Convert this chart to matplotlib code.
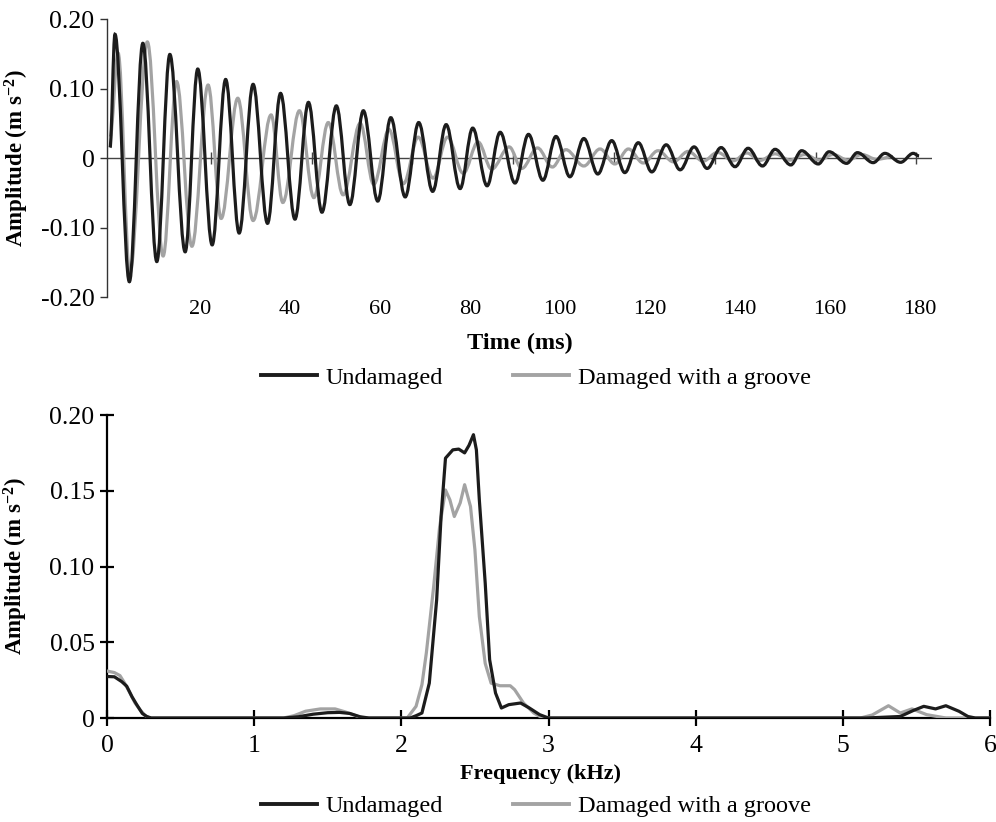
import matplotlib
matplotlib.use('Agg')
import matplotlib.pyplot as plt
from matplotlib.path import Path
from matplotlib.patches import PathPatch
from matplotlib.lines import Line2D

plt.rcParams['font.family'] = ['Liberation Serif', 'DejaVu Serif']
plt.rcParams['mathtext.default'] = 'regular'

# --- time signal: extrema (ms, m s^-2) ---
undamaged_t = [0.0, 1.1, 4.3, 7.3, 10.4, 13.3, 16.7, 19.5, 22.7, 25.7, 28.7,
               31.8, 35.0, 37.9, 41.1, 44.1, 47.1, 50.3, 53.3, 56.3, 59.5,
               62.4, 65.6, 68.6, 71.7, 74.7, 77.8, 80.6, 83.8, 86.7, 90.0,
               93.0, 96.2, 99.1, 102.2, 105.3, 108.4, 111.5, 114.4, 117.4,
               120.4, 123.6, 126.7, 129.8, 132.7, 135.8, 138.9, 141.8, 145.0,
               147.8, 151.3, 153.7, 157.4, 159.8, 163.7, 166.1, 169.6, 172.2,
               175.7, 178.5, 179.8]
undamaged_a = [0.015, 0.178, -0.178, 0.165, -0.149, 0.149, -0.135, 0.128,
               -0.125, 0.113, -0.108, 0.106, -0.094, 0.093, -0.088, 0.080,
               -0.078, 0.075, -0.067, 0.068, -0.062, 0.058, -0.056, 0.051,
               -0.048, 0.048, -0.044, 0.043, -0.040, 0.037, -0.036, 0.034,
               -0.032, 0.031, -0.027, 0.028, -0.023, 0.025, -0.021, 0.022,
               -0.020, 0.019, -0.017, 0.016, -0.015, 0.015, -0.0125, 0.014,
               -0.0115, 0.0125, -0.010, 0.0105, -0.0086, 0.009, -0.0077,
               0.0077, -0.0067, 0.0067, -0.0062, 0.0067, 0.003]

groove_t = [0.0, 1.8, 4.4, 8.3, 11.8, 14.8, 18.2, 21.8, 24.7, 28.4, 31.8,
            35.8, 38.4, 42.1, 45.3, 48.5, 51.8, 55.6, 58.6, 62.0, 65.2, 68.5,
            71.8, 75.0, 78.5, 81.8, 84.8, 88.7, 91.5, 95.0, 98.3, 101.3,
            105.3, 108.9, 112.2, 115.2, 118.5, 121.8, 125.2, 128.5, 131.8,
            135.0, 138.5, 141.5, 144.4, 147.8, 151.1, 154.4, 157.6, 160.7,
            164.0, 167.1, 170.4, 174.0]
groove_a = [0.030, 0.151, -0.166, 0.167, -0.141, 0.110, -0.127, 0.105,
            -0.087, 0.086, -0.090, 0.062, -0.064, 0.068, -0.057, 0.051,
            -0.053, 0.050, -0.038, 0.041, -0.037, 0.030, -0.029, 0.030,
            -0.022, 0.023, -0.016, 0.016, -0.015, 0.0145, -0.013, 0.012,
            -0.0115, 0.013, -0.0086, 0.013, -0.0072, 0.0105, -0.0055, 0.0095,
            -0.0045, 0.008, -0.004, 0.0072, -0.0035, 0.006, -0.003, 0.005,
            -0.003, 0.005, -0.003, 0.005, -0.002, 0.002]

time_ticks = [20, 40, 60, 80, 100, 120, 140, 160, 180]
zero_line_ticks = [22.4, 44.8, 67.2, 89.6, 112.0, 134.4, 156.8, 179.2]
amp_ticks_top = [-0.20, -0.10, 0, 0.10, 0.20]
amp_labels_top = ['-0.20', '-0.10', '0', '0.10', '0.20']

# --- spectrum (kHz, m s^-2) ---
undamaged_f = [0.0, 0.05, 0.10, 0.134, 0.17, 0.202, 0.24, 0.27, 0.30, 1.20,
               1.30, 1.40, 1.50, 1.58, 1.65, 1.72, 1.78, 2.06, 2.10, 2.14,
               2.19, 2.24, 2.27, 2.30, 2.35, 2.39, 2.43, 2.46, 2.49, 2.51,
               2.53, 2.57, 2.60, 2.64, 2.68, 2.73, 2.81, 2.87, 2.94, 3.0,
               5.16, 5.39, 5.48, 5.55, 5.63, 5.70, 5.79, 5.85, 5.90, 6.0]
undamaged_s = [0.0274, 0.0272, 0.024, 0.021, 0.014, 0.0088, 0.003, 0.001, 0.0,
               0.0, 0.0008, 0.0025, 0.0035, 0.0037, 0.003, 0.0008, 0.0, 0.0,
               0.0015, 0.0033, 0.023, 0.078, 0.133, 0.1715, 0.177, 0.1775,
               0.175, 0.180, 0.187, 0.177, 0.144, 0.089, 0.0385, 0.0165,
               0.0066, 0.0088, 0.0099, 0.0066, 0.0022, 0.0, 0.0, 0.001, 0.005,
               0.0077, 0.006, 0.0081, 0.0044, 0.001, 0.0, 0.0]

groove_f = [0.0, 0.05, 0.088, 0.12, 0.156, 0.19, 0.224, 0.26, 0.29, 1.20,
            1.27, 1.35, 1.45, 1.55, 1.62, 1.70, 1.74, 2.04, 2.10, 2.14, 2.17,
            2.22, 2.26, 2.30, 2.33, 2.36, 2.40, 2.43, 2.47, 2.50, 2.53, 2.57,
            2.61, 2.67, 2.74, 2.77, 2.83, 2.90, 2.96, 5.12, 5.20, 5.31, 5.39,
            5.47, 5.57, 5.70, 6.0]
groove_s = [0.031, 0.030, 0.028, 0.023, 0.0165, 0.010, 0.0055, 0.0015, 0.0,
            0.0, 0.0015, 0.0045, 0.006, 0.006, 0.004, 0.0012, 0.0, 0.0, 0.0077,
            0.022, 0.043, 0.087, 0.126, 0.1505, 0.144, 0.133, 0.142, 0.154,
            0.1396, 0.111, 0.067, 0.036, 0.023, 0.0213, 0.0213, 0.0187,
            0.0099, 0.0033, 0.0, 0.0, 0.002, 0.0081, 0.0033, 0.006, 0.0022,
            0.0, 0.0]

freq_ticks = [0, 1, 2, 3, 4, 5, 6]
amp_ticks_bot = [0, 0.05, 0.10, 0.15, 0.20]
amp_labels_bot = ['0', '0.05', '0.10', '0.15', '0.20']

BLACK = '#1c1c1c'
GREY = '#a3a3a3'
W, H = 996, 822


def smooth_path(ts, vals, k=0.36):
    # cubic segments between successive extrema, flat at each extremum
    verts = [(ts[0], vals[0])]
    codes = [Path.MOVETO]
    for i in range(1, len(ts)):
        d = (ts[i] - ts[i - 1]) * k
        verts += [(ts[i - 1] + d, vals[i - 1]), (ts[i] - d, vals[i]), (ts[i], vals[i])]
        codes += [Path.CURVE4] * 3
    return Path(verts, codes)


fig = plt.figure(figsize=(W / 100, H / 100), dpi=100)

# ---------------- top: time signal ----------------
ax1 = fig.add_axes([107 / W, 1 - 297 / H, 825 / W, 278 / H])
ax1.set_xlim(-0.67, 182.67)
ax1.set_ylim(-0.2, 0.2)
for s in ['top', 'right', 'bottom']:
    ax1.spines[s].set_visible(False)
ax1.spines['left'].set_color('#333333')
ax1.spines['left'].set_linewidth(1.0)
ax1.axhline(0, color='#444444', lw=1.0, zorder=1)
ax1.plot(zero_line_ticks, [0] * len(zero_line_ticks), ls='none', marker='|',
         ms=9, mew=1.0, color='#444444', zorder=1)

ax1.add_patch(PathPatch(smooth_path(groove_t, groove_a), fill=False,
                        ec=GREY, lw=2.3, zorder=3))
ax1.add_patch(PathPatch(smooth_path(undamaged_t, undamaged_a), fill=False,
                        ec=BLACK, lw=2.3, zorder=4))

ax1.set_xticks(time_ticks)
ax1.set_xticklabels([str(v) for v in time_ticks])
ax1.tick_params(axis='x', length=0, pad=2, labelsize=16)
ax1.set_yticks(amp_ticks_top)
ax1.set_yticklabels(amp_labels_top)
ax1.tick_params(axis='y', direction='out', length=5, width=1.0,
                color='#333333', pad=4, labelsize=18.5)
ax1.set_ylabel('Amplitude (m s$^{-2}$)', fontsize=16.5, fontweight='bold')
ax1.yaxis.set_label_coords(-0.092, 0.5)
fig.text(520 / W, 1 - 343 / H, 'Time (ms)', ha='center', va='center',
         fontsize=17.5, fontweight='bold')

handles = [Line2D([], [], color=BLACK, lw=2.8), Line2D([], [], color=GREY, lw=2.8)]
labels = ['Undamaged', 'Damaged with a groove']
fig.legend(handles, labels, loc='center', bbox_to_anchor=(536 / W, 1 - 378 / H),
           ncol=2, frameon=False, fontsize=17.5, handlelength=2.3,
           handletextpad=0.35, columnspacing=2.9)

# ---------------- bottom: spectrum ----------------
ax2 = fig.add_axes([107 / W, 1 - 718 / H, 883 / W, 303 / H])
ax2.set_xlim(0, 6)
ax2.set_ylim(0, 0.2)
for s in ['top', 'right']:
    ax2.spines[s].set_visible(False)
for s in ['left', 'bottom']:
    ax2.spines[s].set_color('black')
    ax2.spines[s].set_linewidth(1.6)
ax2.plot(undamaged_f, undamaged_s, color=BLACK, lw=2.3, zorder=4)
ax2.plot(groove_f, groove_s, color=GREY, lw=2.3, zorder=3)

ax2.set_xticks(freq_ticks)
ax2.set_xticklabels([str(v) for v in freq_ticks])
ax2.tick_params(axis='x', direction='inout', length=12, width=1.6, pad=6,
                labelsize=18.5)
ax2.set_yticks(amp_ticks_bot)
ax2.set_yticklabels(amp_labels_bot)
ax2.tick_params(axis='y', direction='inout', length=10, width=1.6, pad=4,
                labelsize=18.5)
ax2.set_ylabel('Amplitude (m s$^{-2}$)', fontsize=16.5, fontweight='bold')
ax2.yaxis.set_label_coords(-0.087, 0.5)
fig.text(540 / W, 1 - 774 / H, 'Frequency (kHz)', ha='center', va='center',
         fontsize=16, fontweight='bold')

fig.legend(handles, labels, loc='center', bbox_to_anchor=(536 / W, 1 - 806 / H),
           ncol=2, frameon=False, fontsize=17.5, handlelength=2.3,
           handletextpad=0.35, columnspacing=2.9)

fig.savefig('out.png', dpi=100)
